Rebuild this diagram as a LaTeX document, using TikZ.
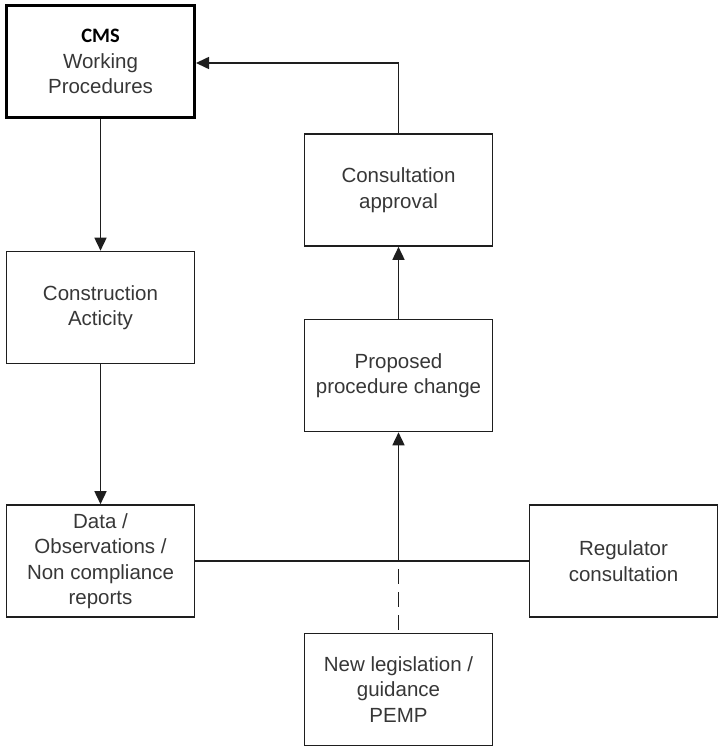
\documentclass[tikz,border=0pt]{standalone}
\usepackage{fontspec}
\setmainfont{Liberation Sans}
\newfontfamily\cmsfont{Carlito}
\usetikzlibrary{arrows.meta}
\definecolor{txtgray}{RGB}{55,55,55}
\definecolor{linegray}{RGB}{30,30,30}

\tikzset{
  blk/.style={draw=linegray, line width=1.6pt, minimum width=188pt, minimum height=112pt,
    inner sep=0pt, align=center, text=txtgray, font=\fontsize{20.5}{25.5}\selectfont},
  link/.style={draw=linegray, line width=1.6pt},
  arr/.style={link, -{Triangle[length=13pt,width=12pt]}}
}

\begin{document}
\begin{tikzpicture}[x=1pt,y=-1pt]
    \useasboundingbox (0,0) rectangle (719,747);

    % left column
    \node[blk, draw=black, line width=3pt] (cms) at (100.5,61.5) {{\cmsfont\bfseries\color{black} CMS}\\Working\\Procedures};
    \node[blk] (build) at (100.5,307.5) {Construction\\Acticity};
    \node[blk] (data) at (100.5,561) {Data /\\Observations /\\Non compliance\\reports};

    % middle column
    \node[blk] (approve) at (398.5,190) {Consultation\\approval};
    \node[blk] (propose) at (398.5,375.5) {Proposed\\procedure change};
    \node[blk] (newlaw) at (398.5,689.5) {New legislation /\\guidance\\PEMP};

    % right
    \node[blk] (regul) at (623.5,561) {Regulator\\consultation};

    \coordinate (meet) at (398.5,561);
    \coordinate (corner) at (398.5,63);

    \draw[arr] (cms) -- (build);
    \draw[arr] (build) -- (data);
    \draw[link] (data) -- (regul);
    \draw[arr] (meet) -- (propose);
    \draw[link, dash pattern=on 15pt off 8pt, dash phase=15pt] (meet) -- (newlaw);
    \draw[arr] (propose) -- (approve);
    \draw[arr] (approve) -- (corner) -- (cms.east |- corner);
\end{tikzpicture}
\end{document}
